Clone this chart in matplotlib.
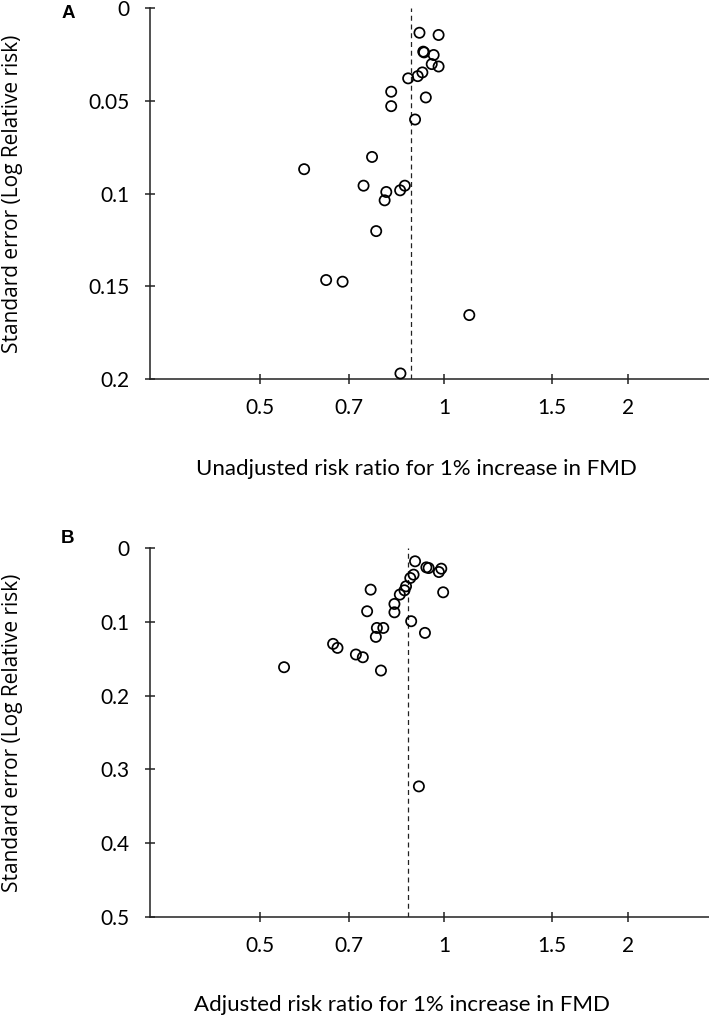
import numpy as np
import matplotlib
matplotlib.use('Agg')
import matplotlib.pyplot as plt
from matplotlib.ticker import FixedLocator, FixedFormatter, NullLocator

# A: unadjusted risk ratio / standard error
rr_a = [0.912, 0.980, 0.925, 0.928, 0.962, 0.955, 0.980, 0.922, 0.906, 0.874,
        0.820, 0.934, 0.820, 0.897, 0.763, 0.591, 0.739, 0.863, 0.848, 0.805,
        0.800, 0.775, 0.642, 0.683, 1.100, 0.849]
se_a = [0.0132, 0.0144, 0.0234, 0.0238, 0.0252, 0.0301, 0.0314, 0.0346, 0.0366, 0.0378,
        0.0450, 0.0481, 0.0528, 0.0600, 0.0802, 0.0868, 0.0957, 0.0957, 0.0982, 0.0991,
        0.1036, 0.1202, 0.1466, 0.1475, 0.1655, 0.1970]
pooled_a = 0.885

# B: adjusted risk ratio / standard error
rr_b = [0.897, 0.936, 0.944, 0.990, 0.981, 0.892, 0.881, 0.867, 0.862, 0.847,
        0.759, 0.997, 0.830, 0.830, 0.749, 0.884, 0.796, 0.777, 0.774, 0.931,
        0.659, 0.670, 0.718, 0.737, 0.548, 0.789, 0.910]
se_b = [0.0180, 0.0262, 0.0271, 0.0280, 0.0325, 0.0361, 0.0406, 0.0519, 0.0573, 0.0631,
        0.0564, 0.0600, 0.0758, 0.0871, 0.0857, 0.0992, 0.1083, 0.1083, 0.1204, 0.1150,
        0.1299, 0.1353, 0.1443, 0.1480, 0.1615, 0.1660, 0.3230]
pooled_b = 0.874

x_ticks = [0.5, 0.7, 1, 1.5, 2]
x_labels = ['0.5', '0.7', '1', '1.5', '2']
y_ticks_a = [0, 0.05, 0.1, 0.15, 0.2]
y_labels_a = ['0', '0.05', '0.1', '0.15', '0.2']
y_ticks_b = [0, 0.1, 0.2, 0.3, 0.4, 0.5]
y_labels_b = ['0', '0.1', '0.2', '0.3', '0.4', '0.5']

tick_font = 'Lato'
label_font = 'Open Sans'


def funnel(ax, rr, se, pooled, yticks, ylabels, xlabel, letter, xlab_x, xlab_y, letter_y):
    ax.scatter(rr, se, s=54, facecolors='none', edgecolors='black', linewidths=1.25,
               clip_on=False, zorder=3)
    ax.axvline(pooled, color='#222222', lw=0.9, ls=(0, (4, 3)), zorder=2)
    ax.set_xscale('log')
    ax.set_xlim(0.331, 2.71)
    ax.set_ylim(yticks[-1], 0)
    ax.xaxis.set_major_locator(FixedLocator(x_ticks))
    ax.xaxis.set_major_formatter(FixedFormatter(x_labels))
    ax.xaxis.set_minor_locator(NullLocator())
    ax.yaxis.set_major_locator(FixedLocator(yticks))
    ax.yaxis.set_major_formatter(FixedFormatter(ylabels))
    for s in ['top', 'right']:
        ax.spines[s].set_visible(False)
    for s in ['left', 'bottom']:
        ax.spines[s].set_linewidth(1.1)
        ax.spines[s].set_color('#222222')
    ax.tick_params(axis='both', direction='inout', length=7, width=1.1, color='#222222')
    ax.tick_params(axis='x', pad=10)
    ax.tick_params(axis='y', pad=11)
    for t in ax.get_xticklabels() + ax.get_yticklabels():
        t.set_fontfamily(tick_font)
        t.set_fontsize(15)
    ax.set_ylabel('Standard error (Log Relative risk)', family=label_font, fontsize=15)
    ax.yaxis.set_label_coords(-0.228, 0.5)
    ax.set_xlabel(xlabel, family=tick_font, fontsize=16)
    ax.xaxis.set_label_coords(xlab_x, xlab_y)
    ax.text(-0.147, letter_y, letter, transform=ax.transAxes, family='Liberation Sans',
            fontweight='bold', fontsize=13.5, ha='center', va='center')


fig = plt.figure(figsize=(7.09, 10.23), dpi=100)
ax_a = fig.add_axes([0.2116, 0.6295, 0.7884, 0.3624])
ax_b = fig.add_axes([0.2116, 0.1036, 0.7884, 0.3607])

funnel(ax_a, rr_a, se_a, pooled_a, y_ticks_a, y_labels_a,
       'Unadjusted risk ratio for 1% increase in FMD', 'A', 0.476, -0.216, 0.987)
funnel(ax_b, rr_b, se_b, pooled_b, y_ticks_b, y_labels_b,
       'Adjusted risk ratio for 1% increase in FMD', 'B', 0.451, -0.211, 1.026)

fig.savefig('out.png', dpi=100)
